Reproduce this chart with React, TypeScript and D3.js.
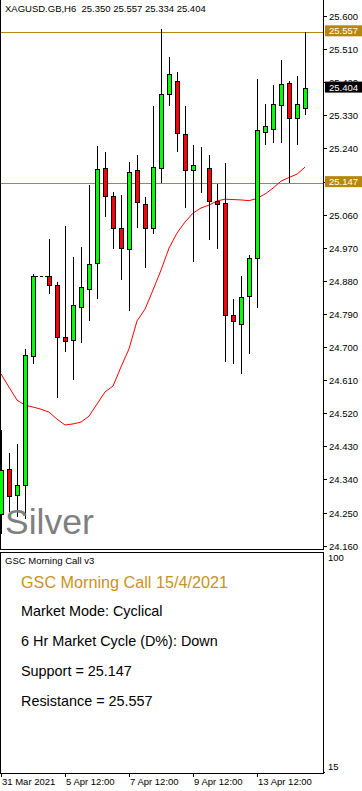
import * as d3 from "d3";
import { useEffect, useRef } from "react";

// XAGUSD H6 candles (oldest first)
const open = [
  24.246, 24.368, 24.298, 24.324, 24.677, 24.893, 24.893, 24.868, 24.726, 24.718,
  24.81, 24.859, 24.928, 25.186, 25.112, 25.024, 24.966, 25.181, 25.088, 25.025,
  25.186, 25.387, 25.423, 25.279, 25.18, 25.193, 25.186, 25.097, 25.091, 24.786,
  24.764, 24.838, 24.941, 25.285, 25.292, 25.357, 25.417, 25.322, 25.35,
];
const high = [
  24.474, 24.411, 24.436, 24.696, 24.899, 24.893, 24.994, 24.877, 25.029, 24.945,
  24.973, 25.14, 25.247, 25.23, 25.121, 25.113, 25.203, 25.222, 25.109, 25.355,
  25.565, 25.488, 25.449, 25.355, 25.249, 25.243, 25.222, 25.143, 25.201, 24.832,
  24.893, 24.95, 25.429, 25.36, 25.412, 25.48, 25.423, 25.437, 25.557,
];
const low = [
  24.194, 24.255, 24.24, 24.235, 24.656, 24.893, 24.848, 24.565, 24.69, 24.612,
  24.714, 24.773, 24.834, 25.057, 24.97, 24.884, 24.801, 25.027, 24.917, 25.009,
  25.149, 25.358, 25.234, 25.081, 24.933, 25.122, 24.993, 24.968, 24.663, 24.656,
  24.63, 24.683, 24.81, 25.251, 25.258, 25.258, 25.149, 25.251, 25.334,
];
const close = [
  24.366, 24.295, 24.324, 24.678, 24.893, 24.893, 24.868, 24.726, 24.716, 24.813,
  24.862, 24.925, 25.183, 25.112, 25.023, 24.969, 25.176, 25.094, 25.024, 25.189,
  25.388, 25.442, 25.281, 25.18, 25.194, 25.193, 25.097, 25.088, 24.787, 24.77,
  24.837, 24.941, 25.29, 25.301, 25.36, 25.414, 25.322, 25.36, 25.404,
];
// red moving average
const ma = [
  24.627, 24.591, 24.556, 24.542, 24.537, 24.531, 24.523, 24.504, 24.488, 24.491,
  24.496, 24.512, 24.545, 24.578, 24.594, 24.646, 24.695, 24.771, 24.803, 24.855,
  24.909, 24.969, 25.01, 25.04, 25.064, 25.078, 25.086, 25.097, 25.102, 25.101,
  25.1, 25.098, 25.104, 25.116, 25.132, 25.151, 25.161, 25.17, 25.189,
];

const priceTicks = [
  25.6, 25.51, 25.42, 25.33, 25.24, 25.15, 25.06, 24.97, 24.88, 24.79,
  24.7, 24.61, 24.52, 24.43, 24.34, 24.25, 24.16,
];
const xLabels = ["31 Mar 2021", "5 Apr 12:00", "7 Apr 12:00", "9 Apr 12:00", "13 Apr 12:00"];
const xLabelBars = [0, 8, 16, 24, 32];
const panelTicks = [100, 15];

const support = 25.147;
const resistance = 25.557;
const lastPrice = 25.404;

const title = "XAGUSD.GB,H6  25.350 25.557 25.334 25.404";
const panelTitle = "GSC Morning Call v3";
const headline = "GSC Morning Call 15/4/2021";
const infoLines = [
  "Market Mode: Cyclical",
  "6 Hr Market Cycle (D%): Down",
  "Support = 25.147",
  "Resistance = 25.557",
];

function App() {
  const ref = useRef<SVGSVGElement>(null);

  useEffect(() => {
    const svg = d3.select(ref.current);
    svg.selectAll("*").remove();

    const font = "Arial, 'Liberation Sans', sans-serif";
    const plotRight = 323;
    const mainBottom = 549;
    const panelTop = 552;
    const panelBottom = 773;
    const gold = "#b8860b";
    const barStep = 8;
    const n = open.length;

    const x = d3.scaleLinear().domain([0, n - 1]).range([1, 1 + barStep * (n - 1)]);
    const y = d3.scaleLinear().domain([24.16, 25.6]).range([545.7, 16]);
    const yp = d3.scaleLinear().domain([15, 100]).range([771.5, 553]);
    const px = (v: number) => Math.round(v) + 0.5;

    svg.append("rect").attr("width", 362).attr("height", 791).attr("fill", "#fff");

    // frames
    const frame = svg.append("g").attr("stroke", "#000").attr("stroke-width", 1).attr("fill", "none");
    frame.append("line").attr("x1", 0.5).attr("x2", 0.5).attr("y1", 0).attr("y2", mainBottom + 0.5);
    frame.append("line").attr("x1", 0).attr("x2", plotRight).attr("y1", mainBottom + 0.5).attr("y2", mainBottom + 0.5);
    frame.append("line").attr("x1", plotRight + 0.5).attr("x2", plotRight + 0.5).attr("y1", 0).attr("y2", mainBottom + 1);
    frame
      .append("rect")
      .attr("x", 0.5)
      .attr("y", panelTop + 0.5)
      .attr("width", plotRight)
      .attr("height", panelBottom - panelTop);

    // support / resistance
    [resistance, support].forEach((v) => {
      svg
        .append("line")
        .attr("x1", 1)
        .attr("x2", plotRight)
        .attr("y1", px(y(v)))
        .attr("y2", px(y(v)))
        .attr("stroke", gold)
        .attr("stroke-width", 1);
    });

    // moving average
    const line = d3
      .line<number>()
      .x((_, i) => x(i))
      .y((d) => y(d));
    svg
      .append("path")
      .datum(ma)
      .attr("d", line)
      .attr("fill", "none")
      .attr("stroke", "#ff0000")
      .attr("stroke-width", 1);

    // candles
    const idx = d3.range(n);
    const candles = svg.append("g");
    candles
      .selectAll("line.wick")
      .data(idx.filter((i) => high[i] !== low[i]))
      .enter()
      .append("line")
      .attr("class", "wick")
      .attr("x1", (i) => px(x(i)))
      .attr("x2", (i) => px(x(i)))
      .attr("y1", (i) => Math.round(y(high[i])))
      .attr("y2", (i) => Math.round(y(low[i])) + 1)
      .attr("stroke", "#000")
      .attr("stroke-width", 1);

    candles
      .selectAll("rect.body")
      .data(idx.filter((i) => high[i] !== low[i]))
      .enter()
      .append("rect")
      .attr("class", "body")
      .attr("x", (i) => Math.round(x(i)) - 1.5)
      .attr("width", 4)
      .attr("y", (i) => px(y(Math.max(open[i], close[i]))))
      .attr("height", (i) => Math.round(y(Math.min(open[i], close[i]))) - Math.round(y(Math.max(open[i], close[i]))))
      .attr("fill", (i) => (close[i] >= open[i] ? "#00ff00" : "#ff0000"))
      .attr("stroke", "#000")
      .attr("stroke-width", 1);

    // flat bars (no trading) drawn as a dashed dash
    candles
      .selectAll("line.flat")
      .data(idx.filter((i) => high[i] === low[i]))
      .enter()
      .append("line")
      .attr("class", "flat")
      .attr("x1", (i) => x(i) - barStep / 2 - 2)
      .attr("x2", (i) => x(i) + barStep / 2 + 2)
      .attr("y1", (i) => px(y(close[i])))
      .attr("y2", (i) => px(y(close[i])))
      .attr("stroke", "#000")
      .attr("stroke-dasharray", "3,2");

    // price axis
    const axis = svg.append("g").attr("font-family", font).attr("font-size", 9.5);
    priceTicks.forEach((v) => {
      const yy = px(y(v));
      axis.append("line").attr("x1", plotRight).attr("x2", plotRight + 4).attr("y1", yy).attr("y2", yy).attr("stroke", "#000");
      axis
        .append("text")
        .attr("x", 329)
        .attr("y", yy)
        .attr("dy", "0.36em")
        .attr("fill", "#000")
        .text(v.toFixed(3));
    });

    const boxes: [number, string][] = [
      [resistance, gold],
      [support, gold],
      [lastPrice, "#000"],
    ];
    boxes.forEach(([v, c]) => {
      const yy = y(v) - 1;
      axis.append("rect").attr("x", 325).attr("y", yy - 5.5).attr("width", 37).attr("height", 11).attr("fill", c);
      axis
        .append("text")
        .attr("x", 329)
        .attr("y", yy)
        .attr("dy", "0.36em")
        .attr("fill", "#fff")
        .text(v.toFixed(3));
    });

    // indicator panel axis
    panelTicks.forEach((v) => {
      const yy = Math.max(panelTop + 6, Math.min(panelBottom - 6.5, yp(v)));
      axis
        .append("text")
        .attr("x", 328)
        .attr("y", yy)
        .attr("dy", "0.36em")
        .attr("fill", "#000")
        .text(v);
    });
    axis
      .append("line")
      .attr("x1", plotRight)
      .attr("x2", plotRight + 2)
      .attr("y1", px(yp(15)))
      .attr("y2", px(yp(15)))
      .attr("stroke", "#000");

    // time axis
    xLabelBars.forEach((b, k) => {
      const xx = px(x(b));
      axis.append("line").attr("x1", xx).attr("x2", xx).attr("y1", panelBottom).attr("y2", panelBottom + 4).attr("stroke", "#000");
      axis
        .append("text")
        .attr("x", xx + 0.5)
        .attr("y", 782)
        .attr("dy", "0.36em")
        .attr("fill", "#000")
        .text(xLabels[k]);
    });

    // texts
    svg
      .append("text")
      .attr("x", 5)
      .attr("y", 8.5)
      .attr("dy", "0.36em")
      .attr("font-family", font)
      .attr("font-size", 9.5)
      .attr("xml:space", "preserve")
      .style("white-space", "pre")
      .text(title);

    svg
      .append("text")
      .attr("x", 5)
      .attr("y", 534)
      .attr("font-family", font)
      .attr("font-size", 35.5)
      .attr("fill", "#808080")
      .text("Silver");

    svg
      .append("text")
      .attr("x", 5)
      .attr("y", 561)
      .attr("dy", "0.36em")
      .attr("font-family", font)
      .attr("font-size", 9.5)
      .text(panelTitle);

    svg
      .append("text")
      .attr("x", 21)
      .attr("y", 582)
      .attr("dy", "0.36em")
      .attr("font-family", font)
      .attr("font-size", 16.2)
      .attr("fill", "#c8921f")
      .text(headline);

    svg
      .selectAll("text.info")
      .data(infoLines)
      .enter()
      .append("text")
      .attr("class", "info")
      .attr("x", 21)
      .attr("y", (_, i) => 611 + i * 30)
      .attr("dy", "0.36em")
      .attr("font-family", font)
      .attr("font-size", 14.4)
      .attr("fill", "#000")
      .text((d) => d);
  }, []);

  return (
    <div style={{ position: "absolute", left: 0, top: 0 }}>
      <svg ref={ref} width={362} height={791} style={{ display: "block" }} />
    </div>
  );
}

export default App;
